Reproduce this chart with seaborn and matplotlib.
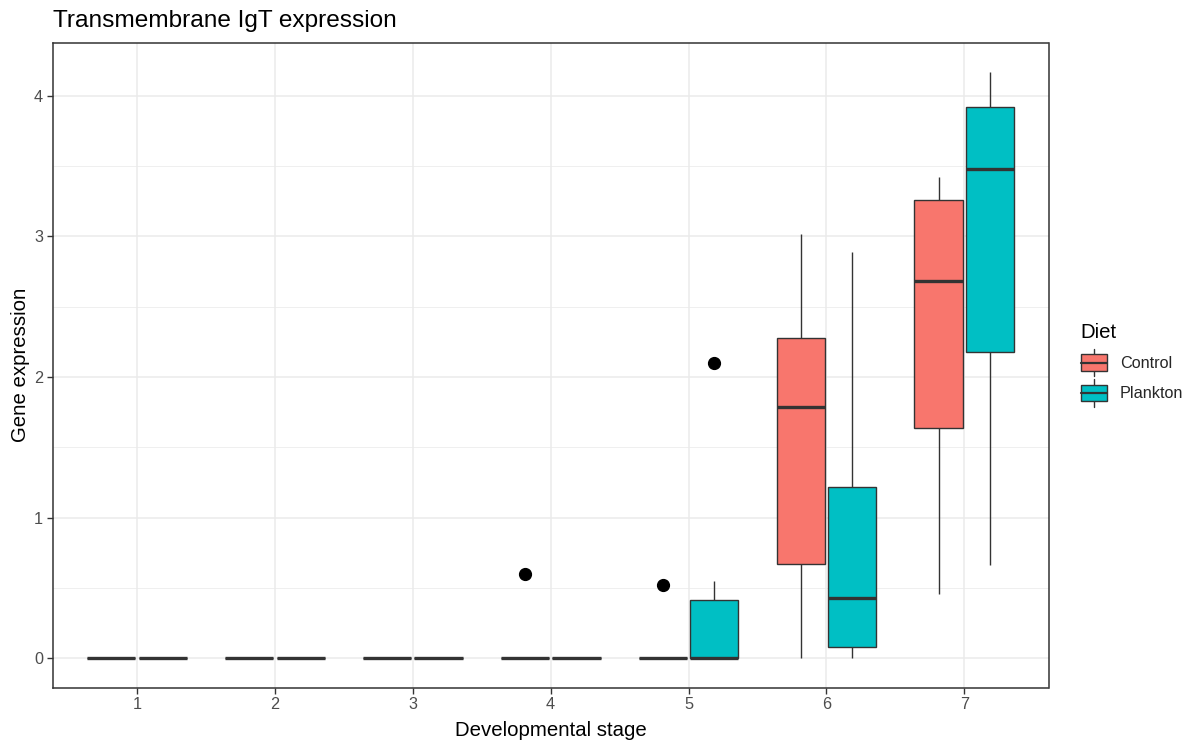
import numpy as np
import pandas as pd
import matplotlib
matplotlib.use("Agg")
import matplotlib.pyplot as plt
import seaborn as sns
from matplotlib.patches import Rectangle, Patch
from matplotlib.lines import Line2D
from matplotlib.legend_handler import HandlerBase

# values (one list per stage, per diet)
stages = ['1', '2', '3', '4', '5', '6', '7']
diets = ['Control', 'Plankton']
control = [
    [0, 0, 0, 0, 0],
    [0, 0, 0, 0, 0],
    [0, 0, 0, 0, 0],
    [0, 0, 0, 0, 0.60],
    [0, 0, 0, 0, 0.52],
    [0, 0.67, 1.79, 2.28, 3.02],
    [0.46, 1.64, 2.68, 3.26, 3.42],
]
plankton = [
    [0, 0, 0, 0, 0],
    [0, 0, 0, 0, 0],
    [0, 0, 0, 0, 0],
    [0, 0, 0, 0, 0],
    [0, 0, 0, 0, 0.55, 2.10],
    [0, 0.08, 0.43, 1.22, 2.89],
    [0.66, 2.18, 3.48, 3.92, 4.17],
]
colors = {'Control': '#F8766D', 'Plankton': '#00BFC4'}

rows = []
for diet, groups in zip(diets, [control, plankton]):
    for stage, vals in zip(stages, groups):
        for v in vals:
            rows.append({'Stage': stage, 'Diet': diet, 'Gene expression': v})
df = pd.DataFrame(rows)

sns.set_theme(style='white')
plt.rcParams['font.family'] = ['Liberation Sans', 'DejaVu Sans']

fig = plt.figure(figsize=(11.98, 7.45), dpi=100)
ax = fig.add_axes([52.7 / 1198, 1 - 687.5 / 745, (1048.5 - 52.7) / 1198, (687.5 - 42.7) / 745])

dark = '#333333'
sns.boxplot(data=df, x='Stage', y='Gene expression', hue='Diet', order=stages,
            hue_order=diets, palette=colors, saturation=1, width=0.75, gap=0.07,
            linecolor=dark, linewidth=1.0, showcaps=False, whis=1.5,
            medianprops=dict(linewidth=2.4, color=dark),
            flierprops=dict(marker='o', markerfacecolor='black', markeredgecolor='black',
                            markersize=8.5),
            ax=ax, legend=False)

ax.set_xlim(-0.61, 6.61)
ax.set_ylim(-0.2085, 4.378)
ax.set_yticks([0, 1, 2, 3, 4])
ax.set_yticks([0.5, 1.5, 2.5, 3.5], minor=True)
ax.set_axisbelow(True)
ax.grid(True, which='major', color='#EBEBEB', linewidth=1.1)
ax.grid(True, which='minor', axis='y', color='#EBEBEB', linewidth=0.55)
for s in ax.spines.values():
    s.set_color(dark)
    s.set_linewidth(1.1)
ax.tick_params(axis='both', which='major', length=4, width=1.0, color=dark,
               labelcolor='#4D4D4D', labelsize=11.7, pad=3, left=True, bottom=True)
ax.tick_params(axis='y', which='minor', length=0)
ax.set_xlabel('Developmental stage', fontsize=14.7, color='black', labelpad=6)
ax.set_ylabel('Gene expression', fontsize=14.7, color='black', labelpad=3)

fig.text(52.7 / 1198, 1 - 27 / 745, 'Transmembrane IgT expression', fontsize=17.6,
         color='black', va='baseline', ha='left')


class BoxKey(HandlerBase):
    def create_artists(self, legend, orig_handle, xdescent, ydescent, width, height,
                       fontsize, trans):
        x0, y0 = -xdescent, -ydescent
        fc = orig_handle.get_facecolor()
        xm = x0 + width / 2
        whisk = Line2D([xm, xm], [y0, y0 + height], color=dark, linewidth=1.0)
        box = Rectangle((x0, y0 + 0.2 * height), width, 0.6 * height,
                        facecolor=fc, edgecolor=dark, linewidth=1.0)
        med = Line2D([x0, x0 + width], [y0 + height / 2] * 2, color=dark, linewidth=1.6)
        arts = [whisk, box, med]
        for a in arts:
            a.set_transform(trans)
        return arts


# legend title drawn separately so the gap below it matches the reference
fig.text(1080 / 1198, 1 - 332 / 745, 'Diet', fontsize=14.7, color='black',
         ha='left', va='center')
handles = [Patch(facecolor=colors[d]) for d in diets]
leg = fig.legend(handles, diets, loc='upper left',
                 bbox_to_anchor=(1081 / 1198, 1 - 349 / 745), frameon=False,
                 fontsize=11.7, handlelength=1.6, handleheight=2.2, labelspacing=0.2,
                 handletextpad=0.8, borderpad=0, borderaxespad=0,
                 handler_map={Patch: BoxKey()})

fig.savefig('out.png', dpi=100)
